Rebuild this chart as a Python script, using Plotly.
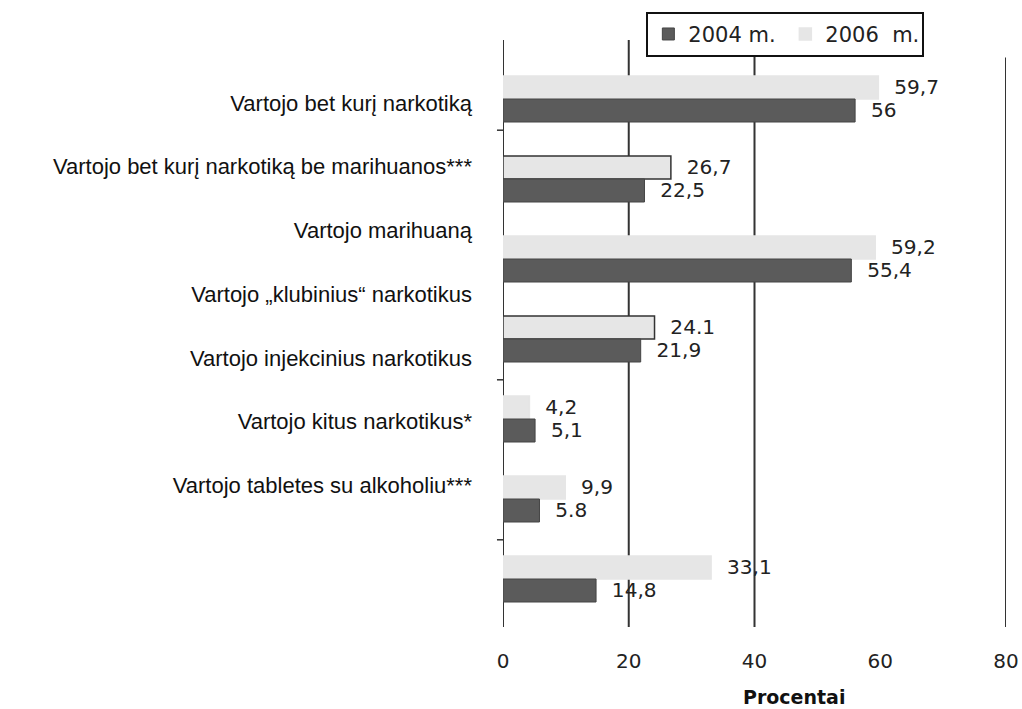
import plotly.graph_objects as go

CATEGORIES = [
    "Vartojo bet kurį narkotiką",
    "Vartojo bet kurį narkotiką be marihuanos***",
    "Vartojo marihuaną",
    "Vartojo „klubinius“ narkotikus",
    "Vartojo injekcinius narkotikus",
    "Vartojo kitus narkotikus*",
    "Vartojo tabletes su alkoholiu***",
]
VALUES_2004 = [56, 22.5, 55.4, 21.9, 5.1, 5.8, 14.8]
VALUES_2006 = [59.7, 26.7, 59.2, 24.1, 4.2, 9.9, 33.1]
TEXT_2004 = ["56", "22,5", "55,4", "21,9", "5,1", "5.8", "14,8"]
TEXT_2006 = ["59,7", "26,7", "59,2", "24.1", "4,2", "9,9", "33,1"]
OUTLINED = [False, True, False, True, False, False, False]
X_TICKS = [0, 20, 40, 60, 80]
GRID_VALUES = [0, 20, 40, 80]
X_TITLE = "Procentai"

DARK = "#5b5b5b"
LIGHT = "#e6e6e6"
LINE = "#333333"
NUM_FONT = "DejaVu Sans"

fig = go.Figure()
fig.add_trace(go.Bar(
    name="2006  m.", y=CATEGORIES, x=VALUES_2006, orientation="h",
    marker=dict(color=LIGHT,
                line=dict(color=[LINE if o else LIGHT for o in OUTLINED], width=1.5)),
    text=TEXT_2006, texttemplate="  %{text}", textposition="outside",
    textfont=dict(family=NUM_FONT, size=21, color="#222"),
    cliponaxis=False, legendrank=2,
))
fig.add_trace(go.Bar(
    name="2004 m.", y=CATEGORIES, x=VALUES_2004, orientation="h",
    marker=dict(color=DARK, line=dict(color="#444", width=1)),
    text=TEXT_2004, texttemplate="  %{text}", textposition="outside",
    textfont=dict(family=NUM_FONT, size=21, color="#222"),
    cliponaxis=False, legendrank=1,
))
# invisible trace carrying the (offset) category labels axis
fig.add_trace(go.Scatter(
    x=[0] * len(CATEGORIES), y=CATEGORIES, yaxis="y2", mode="markers",
    marker=dict(opacity=0), showlegend=False, hoverinfo="skip",
))

shapes = []
for g in GRID_VALUES:
    shapes.append(dict(type="line", xref="x", yref="paper", x0=g, x1=g,
                       y0=0, y1=0.97 if g == 80 else 1,
                       line=dict(color=LINE, width=2), layer="below"))
for yv in [0.39, 3.51, 5.51]:
    shapes.append(dict(type="line", xref="paper", yref="y", x0=-0.012, x1=0,
                       y0=yv, y1=yv, line=dict(color=LINE, width=1.5)))

fig.update_layout(
    width=1022, height=709,
    margin=dict(l=503, r=16, t=40, b=82, autoexpand=False),
    paper_bgcolor="white", plot_bgcolor="white",
    barmode="group", bargap=0.425, bargroupgap=0,
    shapes=shapes,
    font=dict(family="Liberation Sans", color="#111"),
    xaxis=dict(range=[0, 80], tickvals=X_TICKS, showgrid=False, zeroline=False,
               showline=False, ticks="", ticklabelstandoff=20, automargin=False,
               tickfont=dict(family=NUM_FONT, size=20, color="#222")),
    yaxis=dict(type="category", categoryarray=CATEGORIES, range=[6.6, -0.7375],
               showticklabels=False, showgrid=False, zeroline=False, showline=False,
               ticks="", automargin=False),
    yaxis2=dict(type="category", categoryarray=CATEGORIES, overlaying="y", side="left",
                range=[8.226, -0.989], showgrid=False, zeroline=False, showline=False,
                ticks="", ticklabelstandoff=30, automargin=False,
                tickfont=dict(family="Liberation Sans", size=22, color="#111")),
    legend=dict(orientation="h", x=0.285, xanchor="left", y=1.048, yanchor="top",
                bordercolor="#111", borderwidth=2, bgcolor="white",
                font=dict(family=NUM_FONT, size=21, color="#222"),
                itemwidth=30, entrywidth=92, entrywidthmode="pixels",
                traceorder="normal"),
    annotations=[dict(text="<b>" + X_TITLE + "</b>", xref="paper", yref="paper",
                      x=0.5785, y=-0.119, xanchor="center", yanchor="middle",
                      showarrow=False,
                      font=dict(family=NUM_FONT, size=19, color="#111"))],
    showlegend=True,
)

fig.write_html("out.html",
               config={"displayModeBar": False},
               post_script="document.body.style.margin='0';document.body.style.overflow='hidden';")
